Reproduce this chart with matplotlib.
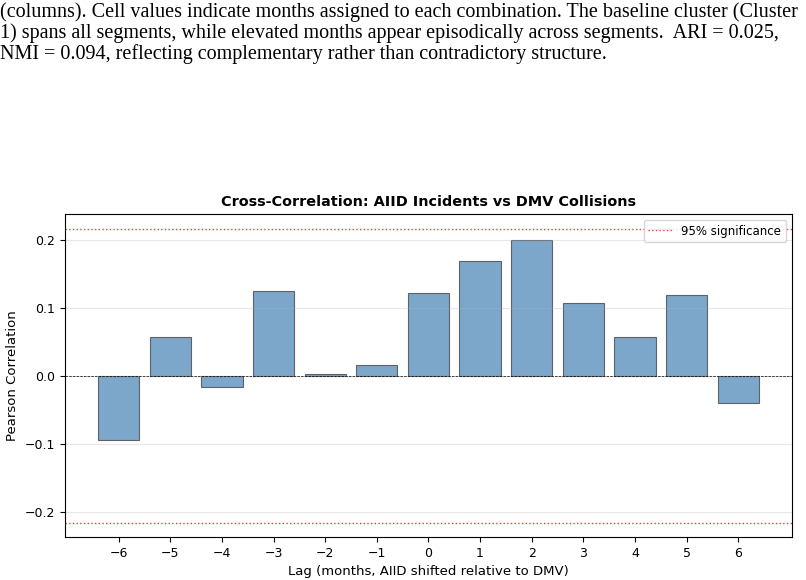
import numpy as np
import matplotlib
matplotlib.use('Agg')
import matplotlib.pyplot as plt

# cross-correlation values
lags = [-6, -5, -4, -3, -2, -1, 0, 1, 2, 3, 4, 5, 6]
corr = [-0.094, 0.057, -0.016, 0.124, 0.003, 0.016, 0.122, 0.169, 0.199, 0.107, 0.057, 0.119, -0.040]
sig = 0.216

caption_lines = [
    "(columns). Cell values indicate months assigned to each combination. The baseline cluster (Cluster",
    "1) spans all segments, while elevated months appear episodically across segments.  ARI = 0.025,",
    "NMI = 0.094, reflecting complementary rather than contradictory structure.",
]

fig = plt.figure(figsize=(8.06, 5.80), dpi=100)

# caption text above the chart
for i, line in enumerate(caption_lines):
    fig.text(0.0, 1 - (12 + 21 * i) / 580, line, family='Liberation Serif',
             fontsize=14.5, va='center', ha='left')

ax = fig.add_axes([0.0806, 0.0741, 0.902, 0.557])
ax.bar(lags, corr, width=0.8, color='steelblue', alpha=0.7, edgecolor='#333333', linewidth=0.8)
ax.axhline(0, color='black', linestyle='--', linewidth=0.5)
ax.axhline(sig, color='red', linestyle=':', linewidth=1.0, alpha=0.8, label='95% significance')
ax.axhline(-sig, color='red', linestyle=':', linewidth=1.0, alpha=0.8)

ax.set_ylim(-0.237, 0.238)
ax.set_xticks(lags)
ax.set_xlabel('Lag (months, AIID shifted relative to DMV)', fontsize=9.5)
ax.set_ylabel('Pearson Correlation', fontsize=9.5)
ax.set_title('Cross-Correlation: AIID Incidents vs DMV Collisions', fontsize=10.4, fontweight='bold')
ax.tick_params(labelsize=9)
ax.grid(axis='y', alpha=0.3)
ax.legend(loc='upper right', fontsize=8.5)

fig.savefig('out.png', dpi=100)
